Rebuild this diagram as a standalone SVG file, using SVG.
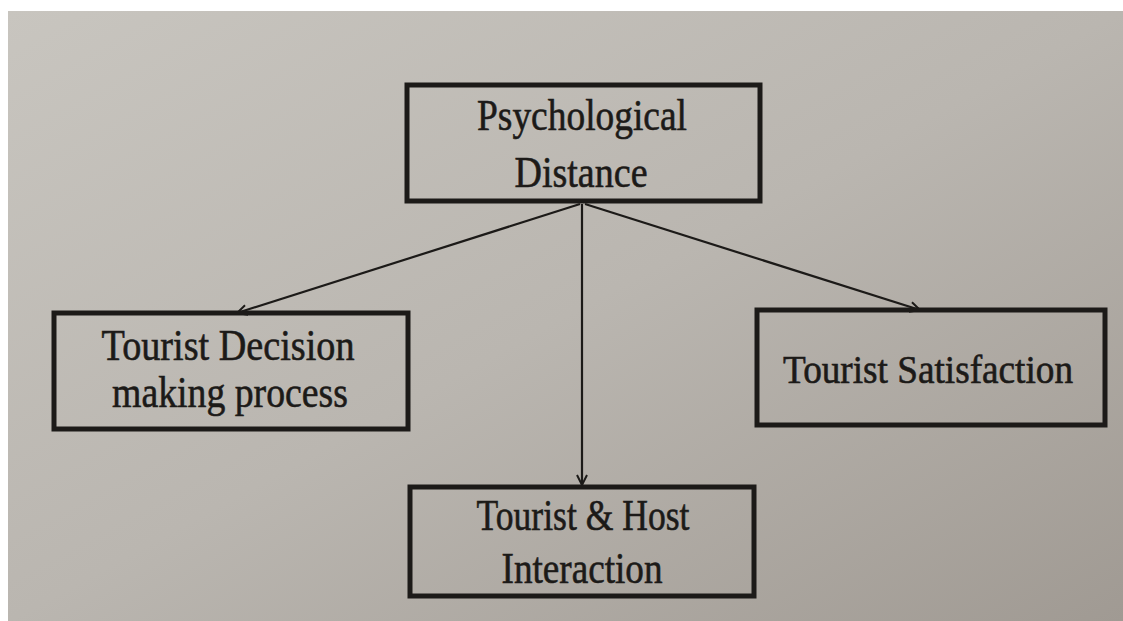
<svg xmlns="http://www.w3.org/2000/svg" width="1123" height="621" viewBox="0 0 1123 621">
  <defs>
    <linearGradient id="bg" x1="0" y1="0" x2="1" y2="1">
      <stop offset="0" stop-color="#c8c5bf"/>
      <stop offset="0.5" stop-color="#bab6b0"/>
      <stop offset="1" stop-color="#a09a93"/>
    </linearGradient>
    <marker id="arr" viewBox="0 0 12 12" refX="11" refY="6" markerWidth="12" markerHeight="12" markerUnits="userSpaceOnUse" orient="auto">
      <path d="M1,1 L11,6 L1,11" fill="none" stroke="#1c1a18" stroke-width="2"/>
    </marker>
    <style>
      .box { fill: none; stroke: #1c1a18; stroke-width: 5; }
      .lbl { font-family: "Liberation Serif", "Times New Roman", serif; font-size: 44px; fill: #1c1a18; stroke: #1c1a18; stroke-width: 0.6; text-anchor: middle; }
      .conn { stroke: #1c1a18; stroke-width: 2.2; fill: none; marker-end: url(#arr); }
    </style>
  </defs>
  <rect x="0" y="0" width="1123" height="621" fill="#ffffff"/>
  <rect x="8" y="11" width="1115" height="610" fill="url(#bg)"/>

  <g id="connectors">
    <line class="conn" x1="580" y1="204" x2="237" y2="313"/>
    <line class="conn" x1="582" y1="204" x2="582" y2="485"/>
    <line class="conn" x1="585" y1="204" x2="920" y2="310"/>
  </g>

  <g id="psychological-distance">
    <rect class="box" x="407" y="85" width="353" height="116"/>
    <text class="lbl" x="582" y="130" textLength="210" lengthAdjust="spacingAndGlyphs">Psychological</text>
    <text class="lbl" x="581" y="187" textLength="133" lengthAdjust="spacingAndGlyphs">Distance</text>
  </g>

  <g id="decision-making">
    <rect class="box" x="54" y="313" width="354" height="116"/>
    <text class="lbl" x="228" y="360" textLength="253" lengthAdjust="spacingAndGlyphs">Tourist Decision</text>
    <text class="lbl" x="230" y="407" textLength="236" lengthAdjust="spacingAndGlyphs">making process</text>
  </g>

  <g id="tourist-satisfaction">
    <rect class="box" x="757" y="310" width="348" height="115"/>
    <text class="lbl" x="928" y="383" font-size="40" textLength="290" lengthAdjust="spacingAndGlyphs" style="font-size:40px">Tourist Satisfaction</text>
  </g>

  <g id="host-interaction">
    <rect class="box" x="410" y="487" width="344" height="109"/>
    <text class="lbl" x="583" y="530" textLength="213" lengthAdjust="spacingAndGlyphs">Tourist &amp; Host</text>
    <text class="lbl" x="582" y="583" textLength="161" lengthAdjust="spacingAndGlyphs">Interaction</text>
  </g>
</svg>
